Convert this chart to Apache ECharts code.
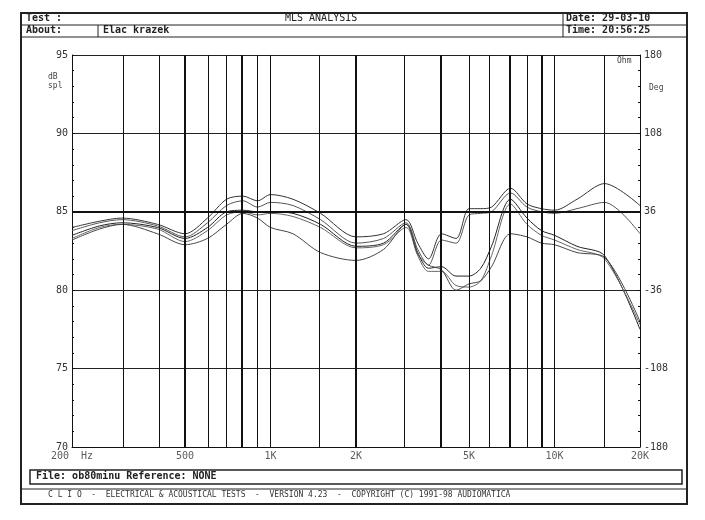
<!DOCTYPE html>
<html>
<head>
<meta charset="utf-8">
<script src="https://cdn.jsdelivr.net/npm/echarts@6/dist/echarts.min.js"></script>
<style>body{margin:0;background:#fff}#c{width:705px;height:520px}</style>
</head>
<body>
<div id="c"></div>
<script>
// frequencies (Hz) and the five measured curves (dB SPL)
var freqs = [200,250,300,400,500,600,700,800,900,1000,1200,1500,2000,2500,3000,3300,3600,4000,4500,5000,5500,6000,7000,8000,9000,10000,12000,15000,20000];
var curveA = [84.0,84.4,84.6,84.2,83.6,84.6,85.8,86.0,85.7,86.1,85.8,84.9,83.4,83.6,84.5,83.0,82.0,83.6,83.3,85.2,85.2,85.3,86.5,85.5,85.2,85.1,85.8,86.8,85.4];
var curveB = [83.8,84.3,84.5,84.1,83.4,84.3,85.4,85.7,85.3,85.6,85.4,84.5,83.0,83.3,84.3,82.6,81.6,83.2,83.0,84.8,84.9,85.0,86.2,85.3,85.0,84.9,85.2,85.6,83.6];
var curveC = [83.5,84.1,84.3,84.0,83.3,84.0,85.0,85.1,85.0,85.0,84.9,84.2,82.8,83.0,84.2,82.4,81.4,81.5,80.9,80.9,81.4,82.8,85.8,84.6,83.8,83.5,82.8,82.2,77.5];
var curveD = [83.3,84.0,84.2,83.9,83.1,83.8,84.8,85.0,84.8,84.9,84.7,84.0,82.7,82.9,84.0,82.2,81.2,81.2,80.3,80.2,80.6,82.2,85.5,84.2,83.5,83.2,82.6,82.0,77.8];
var curveE = [83.2,83.9,84.2,83.6,82.9,83.3,84.2,84.9,84.6,84.0,83.6,82.4,81.9,82.6,84.2,82.3,81.6,81.3,80.0,80.4,80.6,81.5,83.6,83.4,83.0,82.9,82.4,82.1,78.0];

// vertical grid lines (Hz); heavy ones drawn thicker
var thinGrid = [302,405,602,697,896,1000,1482,2951,5000,5877,8000,10000,14940];
var thickGrid = [500,794,2000,3982,6970,9036];
var xTickVals = [200,500,1000,2000,5000,10000,20000];
var xTickText = ['200  Hz','500','1K','2K','5K','10K','20K'];
var phaseTicks = {'180':'180','108':'108','36':'36','-36':'-36','-108':'-108','-180':'-180'};

var FONT = 'DejaVu Sans Mono';
function pair(ys){ return freqs.map(function(f,i){ return [f, ys[i]]; }); }
function lineSeries(ys, col){
  return {type:'line', data:pair(ys), showSymbol:false, smooth:0.3,
          lineStyle:{color:col, width:1}, silent:true};
}
function vlines(list, w){
  return list.map(function(f){ return {xAxis:f, lineStyle:{color:'#111', width:w, type:'solid'}}; });
}

var chart = echarts.init(document.getElementById('c'));
var series = [
  lineSeries(curveA,'#333'), lineSeries(curveB,'#555'), lineSeries(curveC,'#222'),
  lineSeries(curveD,'#666'), lineSeries(curveE,'#444'),
  {type:'scatter', data:xTickVals.map(function(f,i){ return {value:[f,70], label:{formatter:xTickText[i]}}; }),
   symbolSize:0, silent:true,
   label:{show:true, position:'bottom', distance:4, color:'#333', fontFamily:FONT, fontSize:10},
   markLine:{symbol:'none', silent:true, label:{show:false}, animation:false,
     data: vlines(thinGrid,1).concat(vlines(thickGrid,2)).concat([{yAxis:85, lineStyle:{color:'#111', width:2, type:'solid'}}])}}
];

chart.setOption({
  animation:false,
  grid:{left:72, right:65, top:55, bottom:73},
  xAxis:{type:'log', logBase:10, min:200, max:20000,
    axisLine:{onZero:false, lineStyle:{color:'#111'}}, axisTick:{show:false}, axisLabel:{show:false},
    splitLine:{show:false}, minorSplitLine:{show:false}},
  yAxis:[
    {type:'value', min:70, max:95, interval:5,
     axisLine:{show:true, lineStyle:{color:'#111'}},
     axisTick:{show:true, inside:true, length:3, lineStyle:{color:'#111'}},
     minorTick:{show:true, splitNumber:5, length:2, lineStyle:{color:'#111'}},
     axisLabel:{color:'#333', fontFamily:FONT, fontSize:10, margin:4},
     splitLine:{lineStyle:{color:'#222', width:1}}},
    {type:'value', min:-180, max:180, interval:72, position:'right',
     axisLine:{show:true, lineStyle:{color:'#111'}},
     axisTick:{show:true, inside:true, length:3, lineStyle:{color:'#111'}},
     minorTick:{show:true, splitNumber:5, length:2, lineStyle:{color:'#111'}},
     axisLabel:{color:'#333', fontFamily:FONT, fontSize:10, margin:4,
       formatter:function(v){ return phaseTicks[String(Math.round(v))] || ''; }},
     splitLine:{show:false}}
  ],
  series:series,
  graphic:[
    {type:'rect', shape:{x:21, y:13, width:666, height:491}, style:{fill:'none', stroke:'#222', lineWidth:2}},
    {type:'line', shape:{x1:21, y1:25, x2:687, y2:25}, style:{stroke:'#222', lineWidth:1}},
    {type:'line', shape:{x1:21, y1:37, x2:687, y2:37}, style:{stroke:'#222', lineWidth:1}},
    {type:'line', shape:{x1:563, y1:13, x2:563, y2:37}, style:{stroke:'#222', lineWidth:1}},
    {type:'line', shape:{x1:98, y1:25, x2:98, y2:37}, style:{stroke:'#222', lineWidth:1}},
    {type:'text', left:26, top:13, style:{text:'Test :', font:'bold 10px '+FONT, fill:'#222'}},
    {type:'text', left:26, top:25, style:{text:'About:', font:'bold 10px '+FONT, fill:'#222'}},
    {type:'text', left:103, top:25, style:{text:'Elac krazek', font:'bold 10px '+FONT, fill:'#222'}},
    {type:'text', left:285, top:13, style:{text:'MLS ANALYSIS', font:'10px '+FONT, fill:'#222'}},
    {type:'text', left:566, top:13, style:{text:'Date: 29-03-10', font:'bold 10px '+FONT, fill:'#222'}},
    {type:'text', left:566, top:25, style:{text:'Time: 20:56:25', font:'bold 10px '+FONT, fill:'#222'}},
    {type:'text', left:48, top:72, style:{text:'dB\nspl', font:'8px '+FONT, fill:'#444', lineHeight:9}},
    {type:'text', left:617, top:57, style:{text:'Ohm', font:'8px '+FONT, fill:'#444'}},
    {type:'text', left:649, top:84, style:{text:'Deg', font:'8px '+FONT, fill:'#444'}},
    {type:'rect', shape:{x:30, y:470, width:652, height:14}, style:{fill:'none', stroke:'#222', lineWidth:1.5}},
    {type:'text', left:36, top:471, style:{text:'File: ob80minu Reference: NONE', font:'bold 10px '+FONT, fill:'#222'}},
    {type:'line', shape:{x1:21, y1:489, x2:687, y2:489}, style:{stroke:'#222', lineWidth:1}},
    {type:'text', left:48, top:491, style:{text:'C L I O  -  ELECTRICAL & ACOUSTICAL TESTS  -  VERSION 4.23  -  COPYRIGHT (C) 1991-98 AUDIOMATICA', font:'8px '+FONT, fill:'#333'}}
  ]
});
</script>
</body>
</html>
